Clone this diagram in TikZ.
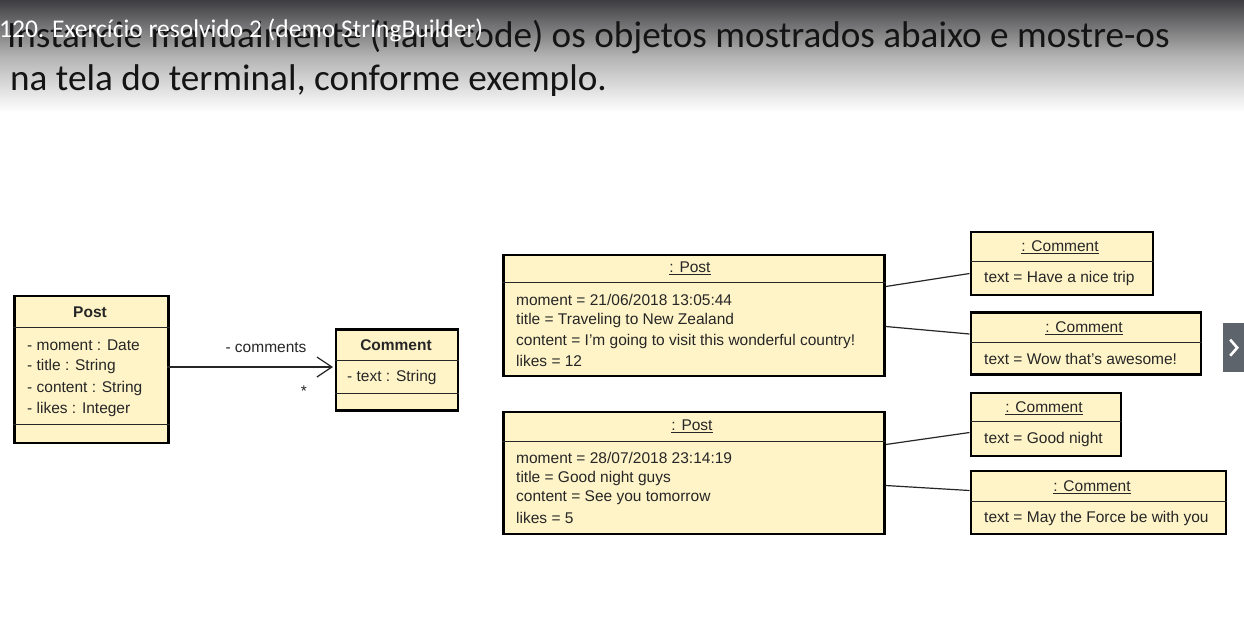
\documentclass[tikz,border=0pt]{standalone}
\usepackage{fontspec}
\setmainfont{Liberation Sans}
\newfontfamily\calib{Carlito}
\usetikzlibrary{arrows.meta}
\definecolor{umlfill}{RGB}{255,244,200}
\definecolor{navgray}{RGB}{93,100,107}
\definecolor{headtop}{RGB}{62,62,66}
\tikzset{
  box/.style={draw=black, line width=2.7pt, fill=umlfill, rectangle, inner sep=0pt, anchor=north west},
  sepline/.style={draw=black!85, line width=0.9pt},
  txt/.style={inner sep=0pt, font=\fontsize{15.5}{18}\selectfont, text=black!85},
  bold/.style={txt, font=\fontsize{15.5}{18}\selectfont\bfseries},
  link/.style={draw=black!85, line width=1.2pt},
  head/.style={inner sep=0pt, font=\calib\fontsize{37.2}{40}\selectfont, text=black!92}
}
\begin{document}
\begin{tikzpicture}[x=1pt,y=-1pt]
\useasboundingbox (0,0) rectangle (1244,630);
\fill[white] (0,0) rectangle (1244,630);
\shade[top color=headtop, bottom color=white, middle color=black!30] (0,0) rectangle (1244,112);

% header texts
\node[head, anchor=base east] (h1) at (1170,47) {Instancie manualmente (hard code) os objetos mostrados abaixo e mostre-os};
\node[head, anchor=base west] (h2) at (10,90) {na tela do terminal, conforme exemplo.};
\node[inner sep=0pt, anchor=base west, text=white, font=\calib\fontsize{25.5}{28}\selectfont] (ttl) at (-1,37) {120. Exercício resolvido 2 (demo StringBuilder)};

% class Post
\node[box, minimum width=154pt, minimum height=147pt] (cPost) at (13,294.5) {};
\draw[sepline] ([yshift=-33pt]cPost.north west) -- ([yshift=-33pt]cPost.north east);
\draw[sepline] ([yshift=-130pt]cPost.north west) -- ([yshift=-130pt]cPost.north east);
\node[bold] (cPostN) at (90,312) {Post};
\node[txt, anchor=west] (cPa) at (27,345) {- moment : Date};
\node[txt, anchor=west] (cPb) at (27,366.5) {- title : String};
\node[txt, anchor=west] (cPc) at (27,388) {- content : String};
\node[txt, anchor=west] (cPd) at (27,409) {- likes : Integer};

% class Comment
\node[box, minimum width=122pt, minimum height=81pt] (cCom) at (334.5,328) {};
\draw[sepline] ([yshift=-32pt]cCom.north west) -- ([yshift=-32pt]cCom.north east);
\draw[sepline] ([yshift=-65pt]cCom.north west) -- ([yshift=-65pt]cCom.north east);
\node[bold] (cComN) at (396,345) {Comment};
\node[txt, anchor=west] (cCa) at (347,377) {- text : String};

% association
\coordinate (aS) at (167,367);
\coordinate (aE) at (333,367);
\draw[link, -{Straight Barb[length=15pt,width=20pt,line width=1.2pt]}] (aS) -- (aE);
\node[txt] (aLab) at (266,348) {- comments};
\node[txt] (aMul) at (304,391) {*};

% object Post 1
\node[box, minimum width=381pt, minimum height=121pt] (p1) at (502,253.5) {};
\draw[sepline] ([yshift=-29pt]p1.north west) -- ([yshift=-29pt]p1.north east);
\node[txt] (p1N) at (690,268) {\underline{: Post}};
\node[txt, anchor=west] (p1a) at (516,300) {moment = 21/06/2018 13:05:44};
\node[txt, anchor=west] (p1b) at (516,320.5) {title = Traveling to New Zealand};
\node[txt, anchor=west] (p1c) at (516,341) {content = I'm going to visit this wonderful country!};
\node[txt, anchor=west] (p1d) at (516,361) {likes = 12};

% object Post 2
\node[box, minimum width=381pt, minimum height=122pt] (p2) at (502,410.5) {};
\draw[sepline] ([yshift=-31pt]p2.north west) -- ([yshift=-31pt]p2.north east);
\node[txt] (p2N) at (692,426) {\underline{: Post}};
\node[txt, anchor=west] (p2a) at (516,458) {moment = 28/07/2018 23:14:19};
\node[txt, anchor=west] (p2b) at (516,478) {title = Good night guys};
\node[txt, anchor=west] (p2c) at (516,498) {content = See you tomorrow};
\node[txt, anchor=west] (p2d) at (516,518) {likes = 5};

% comments objects
\node[box, minimum width=182pt, minimum height=63pt] (c1) at (969.5,230.5) {};
\draw[sepline] ([yshift=-31pt]c1.north west) -- ([yshift=-31pt]c1.north east);
\node[txt] (c1N) at (1060,247) {\underline{: Comment}};
\node[txt, anchor=west] (c1a) at (984,278) {text = Have a nice trip};

\node[box, minimum width=230pt, minimum height=62pt] (c2) at (969.5,311) {};
\draw[sepline] ([yshift=-31pt]c2.north west) -- ([yshift=-31pt]c2.north east);
\node[txt] (c2N) at (1084,328) {\underline{: Comment}};
\node[txt, anchor=west] (c2a) at (984,358.5) {text = Wow that's awesome!};

\node[box, minimum width=150pt, minimum height=63pt] (c3) at (969.5,391.5) {};
\draw[sepline] ([yshift=-30pt]c3.north west) -- ([yshift=-30pt]c3.north east);
\node[txt] (c3N) at (1044,408) {\underline{: Comment}};
\node[txt, anchor=west] (c3a) at (984,439) {text = Good night};

\node[box, minimum width=255pt, minimum height=63pt] (c4) at (969.5,469.5) {};
\draw[sepline] ([yshift=-32pt]c4.north west) -- ([yshift=-32pt]c4.north east);
\node[txt] (c4N) at (1092,487) {\underline{: Comment}};
\node[txt, anchor=west] (c4a) at (984,518) {text = May the Force be with you};

% links
\draw[link] ([yshift=-33pt]p1.north east) -- ([yshift=-43pt]c1.north west);
\draw[link] ([yshift=-73pt]p1.north east) -- ([yshift=-23pt]c2.north west);
\draw[link] ([yshift=-34pt]p2.north east) -- ([yshift=-41pt]c3.north west);
\draw[link] ([yshift=-75pt]p2.north east) -- ([yshift=-21pt]c4.north west);

% navigation chevron
\node[fill=navgray, inner sep=0pt, minimum width=21pt, minimum height=49pt, anchor=north west] (nav) at (1223,323) {};
\draw[white, line width=2.6pt] ([xshift=-3.5pt,yshift=8pt]nav.center) -- ([xshift=3.5pt]nav.center) -- ([xshift=-3.5pt,yshift=-8pt]nav.center);
\end{tikzpicture}
\end{document}
